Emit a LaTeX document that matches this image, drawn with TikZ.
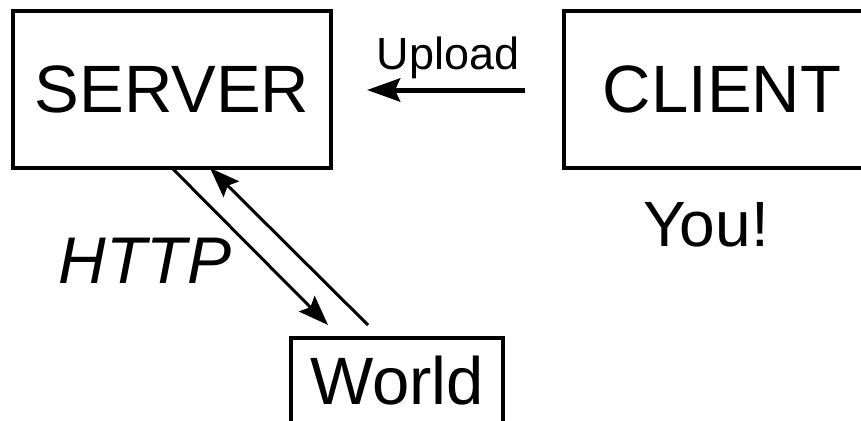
\documentclass[tikz,border=0pt]{standalone}
\usepackage{fontspec}
\setmainfont{Liberation Sans}
\usetikzlibrary{arrows.meta}
\begin{document}
\begin{tikzpicture}[x=1pt,y=1pt,
  box/.style={draw, line width=3.5pt, inner sep=0pt, font=\fontsize{67}{67}\selectfont},
  label/.style={inner sep=0pt, anchor=base},
  diag/.style={line width=3pt, -{Stealth[length=30pt,width=22pt,inset=5pt]}},
  uparrow/.style={line width=5pt, -{Stealth[length=33pt,width=23pt,inset=5pt]}}]
\useasboundingbox (0,0) rectangle (861,-420);
\clip (0,0) rectangle (861,-420);
\node[box, minimum width=318pt, minimum height=157pt] (server) at (172,-89.5) {SERVER};
\node[box, minimum width=316pt, minimum height=157pt] (client) at (722,-89.5) {CLIENT};
\node[box, minimum width=212pt, minimum height=85pt] (world) at (397,-380.5) {World};
\node[label, font=\fontsize{45}{45}\selectfont] (upload) at (448,-69) {Upload};
\node[label, font=\fontsize{64}{64}\selectfont] (you) at (706,-246) {You!};
\node[label, font=\fontsize{66}{66}\selectfont\itshape] (http) at (145,-283) {HTTP};
\coordinate (u1) at (525,-90);
\coordinate (u2) at (367,-90);
\coordinate (d1) at (172,-168);
\coordinate (d2) at (328,-325);
\coordinate (e1) at (368,-325);
\coordinate (e2) at (210,-168);
\draw[uparrow] (u1) -- (u2);
\draw[diag] (d1) -- (d2);
\draw[diag] (e1) -- (e2);
\end{tikzpicture}
\end{document}
